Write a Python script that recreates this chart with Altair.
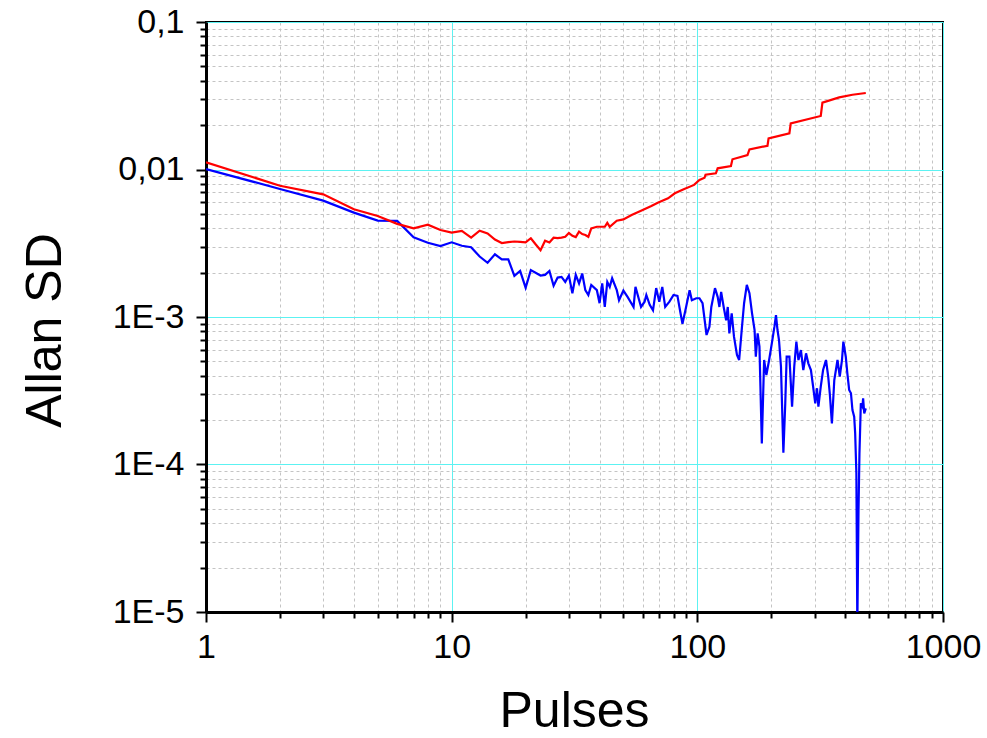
import altair as alt
import pandas as pd

# ---- data ----
red_x = [1, 2, 3, 4, 5, 6, 7, 8, 9, 10, 11, 12, 13, 14, 15, 16, 17, 18, 19, 20,
         21, 22, 23, 24, 25, 26, 27, 28, 29, 30, 31, 32, 33, 34, 35, 36, 37, 39,
         42, 43, 44, 47, 50, 54, 59, 65, 69, 76, 81, 88, 97, 102, 107, 108, 119,
         121, 137, 139, 160, 163, 193, 195, 237, 240, 318, 323, 378, 428, 485]
red_y = [0.0112, 0.00776, 0.00679, 0.00537, 0.00484, 0.00428, 0.00399, 0.00422,
         0.00389, 0.00373, 0.00383, 0.00345, 0.00385, 0.00369, 0.00335, 0.00317,
         0.00322, 0.00325, 0.00323, 0.00321, 0.00342, 0.00310, 0.00284, 0.00329,
         0.00320, 0.00345, 0.00343, 0.00345, 0.00350, 0.00371, 0.00355, 0.00348,
         0.00379, 0.00365, 0.00360, 0.00350, 0.00399, 0.00409, 0.00409, 0.00435,
         0.00409, 0.00450, 0.00459, 0.00492, 0.00526, 0.00566, 0.00596, 0.00638,
         0.00690, 0.00735, 0.00786, 0.00849, 0.00879, 0.00922, 0.00942, 0.01019,
         0.01056, 0.01173, 0.01254, 0.01370, 0.01449, 0.01626, 0.01758, 0.02056,
         0.02306, 0.02838, 0.03085, 0.03213, 0.03300]

blue_x = [1, 2, 3, 4, 5, 6, 7, 8, 9, 10, 11, 12, 13, 14, 15, 16, 17, 18, 19, 20,
          21, 23, 24, 25, 26, 27, 28, 29, 30, 31, 32, 33, 34, 35, 36, 37, 39, 40,
          41, 42, 43, 44, 45, 47, 48, 50, 52, 55, 56, 59, 61, 62, 64, 66, 68, 70,
          72, 74, 77, 80, 83, 85, 87, 90, 93, 95, 99, 102, 105, 109, 112, 114, 118,
          121, 123, 125, 128, 131, 133, 135, 138, 141, 145, 148, 152, 155, 159,
          163, 167, 171, 173, 176, 179, 183, 187, 191, 196, 201, 206, 209, 212,
          215, 219, 224, 228, 231, 237, 243, 248, 253, 258, 264, 270, 277, 283,
          290, 296, 302, 307, 311, 318, 325, 334, 341, 346, 353, 361, 372, 380,
          388, 393, 402, 408, 415, 422, 428, 435, 439, 444, 448, 453, 457, 463,
          470, 473, 478, 485]
blue_y = [0.01007, 0.00738, 0.00615, 0.00510, 0.00450, 0.00448, 0.00347, 0.00319,
          0.00303, 0.00321, 0.00304, 0.00297, 0.00257, 0.00233, 0.00266, 0.00246,
          0.00246, 0.00190, 0.00205, 0.00158, 0.00208, 0.00191, 0.00193, 0.00205,
          0.00163, 0.00185, 0.00187, 0.00173, 0.00191, 0.00145, 0.00193, 0.00169,
          0.00197, 0.00152, 0.00141, 0.00165, 0.00152, 0.00124, 0.00169, 0.00117,
          0.00173, 0.00160, 0.00183, 0.00152, 0.00130, 0.00151, 0.00137, 0.00117,
          0.00160, 0.00117, 0.00127, 0.00141, 0.00121, 0.00111, 0.00157, 0.00127,
          0.00160, 0.00117, 0.00127, 0.00141, 0.00139, 0.00111, 0.00090, 0.00117,
          0.00152, 0.00130, 0.00134, 0.00134, 0.00124, 0.000755, 0.00086, 0.00117,
          0.00157, 0.00137, 0.00117, 0.00148, 0.00117, 0.00095, 0.00117, 0.000775,
          0.00106, 0.000735, 0.000553, 0.000511, 0.00086, 0.00124, 0.00165,
          0.00145, 0.00106, 0.000816, 0.000538, 0.000775, 0.000629, 0.000139,
          0.000511, 0.000404, 0.000511, 0.000663, 0.00086, 0.00103, 0.000816,
          0.000698, 0.00046, 0.00012, 0.00026, 0.000538, 0.000538, 0.000247,
          0.00046, 0.00068, 0.000511, 0.000597, 0.000437, 0.000567, 0.000485,
          0.000437, 0.000337, 0.00026, 0.000329, 0.000247, 0.000337, 0.000437,
          0.000511, 0.000394, 0.000304, 0.00019, 0.000374, 0.000511, 0.000394,
          0.000511, 0.00068, 0.000538, 0.000415, 0.00032, 0.000304, 0.000234,
          0.000211, 0.000163, 0.0000872, 0.000008, 0.0000491, 0.000119, 0.00026,
          0.000247, 0.000281, 0.000222, 0.00024]

x_ticks = [1, 2, 3, 4, 5, 6, 7, 8, 9, 10, 20, 30, 40, 50, 60, 70, 80, 90,
           100, 200, 300, 400, 500, 600, 700, 800, 900, 1000]
x_major = [1, 10, 100, 1000]
x_labels = ["1", "10", "100", "1000"]

y_ticks = [0.00001, 0.00002, 0.00003, 0.00004, 0.00005, 0.00006, 0.00007, 0.00008, 0.00009,
           0.0001, 0.0002, 0.0003, 0.0004, 0.0005, 0.0006, 0.0007, 0.0008, 0.0009,
           0.001, 0.002, 0.003, 0.004, 0.005, 0.006, 0.007, 0.008, 0.009,
           0.01, 0.02, 0.03, 0.04, 0.05, 0.06, 0.07, 0.08, 0.09, 0.1]
y_major = [0.00001, 0.0001, 0.001, 0.01, 0.1]
y_labels = ["1E-5", "1E-4", "1E-3", "0,01", "0,1"]

FONT = "Liberation Sans"


def label_expr(majors, labels):
    expr = "''"
    for v, t in zip(reversed(majors), reversed(labels)):
        expr = f"datum.value == {v!r} ? '{t}' : ({expr})"
    return expr


def major_test(majors):
    return "indexof([" + ",".join(repr(v) for v in majors) + "], datum.value) >= 0"


def make_axis(majors, labels, ticks, **kw):
    test = major_test(majors)
    return alt.Axis(
        values=ticks,
        labelExpr=label_expr(majors, labels),
        grid=True,
        gridColor={"condition": {"test": test, "value": "#5CF2F2"}, "value": "#C4C4C4"},
        gridDash={"condition": {"test": test, "value": []}, "value": [3, 3]},
        gridWidth=1,
        tickSize={"condition": {"test": test, "value": 10}, "value": 6},
        tickColor="black",
        tickWidth=2,
        domainColor="black",
        domainWidth=3,
        labelFont=FONT,
        labelFontSize=34,
        labelColor="black",
        labelFlush=False,
        labelOverlap=False,
        titleFont=FONT,
        titleFontSize=50,
        titleFontWeight="normal",
        titleColor="black",
        **kw,
    )


x_axis = make_axis(x_major, x_labels, x_ticks, labelPadding=8,
                   titleX=368, titleY=114, titleBaseline="alphabetic", titleAlign="center")
y_axis = make_axis(y_major, y_labels, y_ticks, labelPadding=12,
                   titleX=-161, titleY=308, titleAngle=270, titleBaseline="middle",
                   titleAlign="center")

red_df = pd.DataFrame({"x": red_x, "y": red_y})
blue_df = pd.DataFrame({"x": blue_x, "y": blue_y})

xs = alt.Scale(type="log", domain=[1, 1000], nice=False)
ys = alt.Scale(type="log", domain=[0.00001, 0.1], nice=False)

blue = alt.Chart(blue_df).mark_line(color="#0000FF", strokeWidth=2.2, clip=True).encode(
    x=alt.X("x:Q", scale=xs, axis=x_axis, title="Pulses"),
    y=alt.Y("y:Q", scale=ys, axis=y_axis, title="Allan SD"),
)
red = alt.Chart(red_df).mark_line(color="#FF0000", strokeWidth=2.2, clip=True).encode(
    x=alt.X("x:Q", scale=xs),
    y=alt.Y("y:Q", scale=ys),
)

chart = (
    alt.layer(blue, red)
    .properties(
        width=737,
        height=590,
        autosize=alt.AutoSizeParams(type="none"),
        padding={"left": 206, "top": 22, "right": 44, "bottom": 126},
        background="white",
    )
    .configure_view(stroke="black", strokeWidth=2)
)

chart.save("out.html", embed_options={"renderer": "svg", "actions": False})
